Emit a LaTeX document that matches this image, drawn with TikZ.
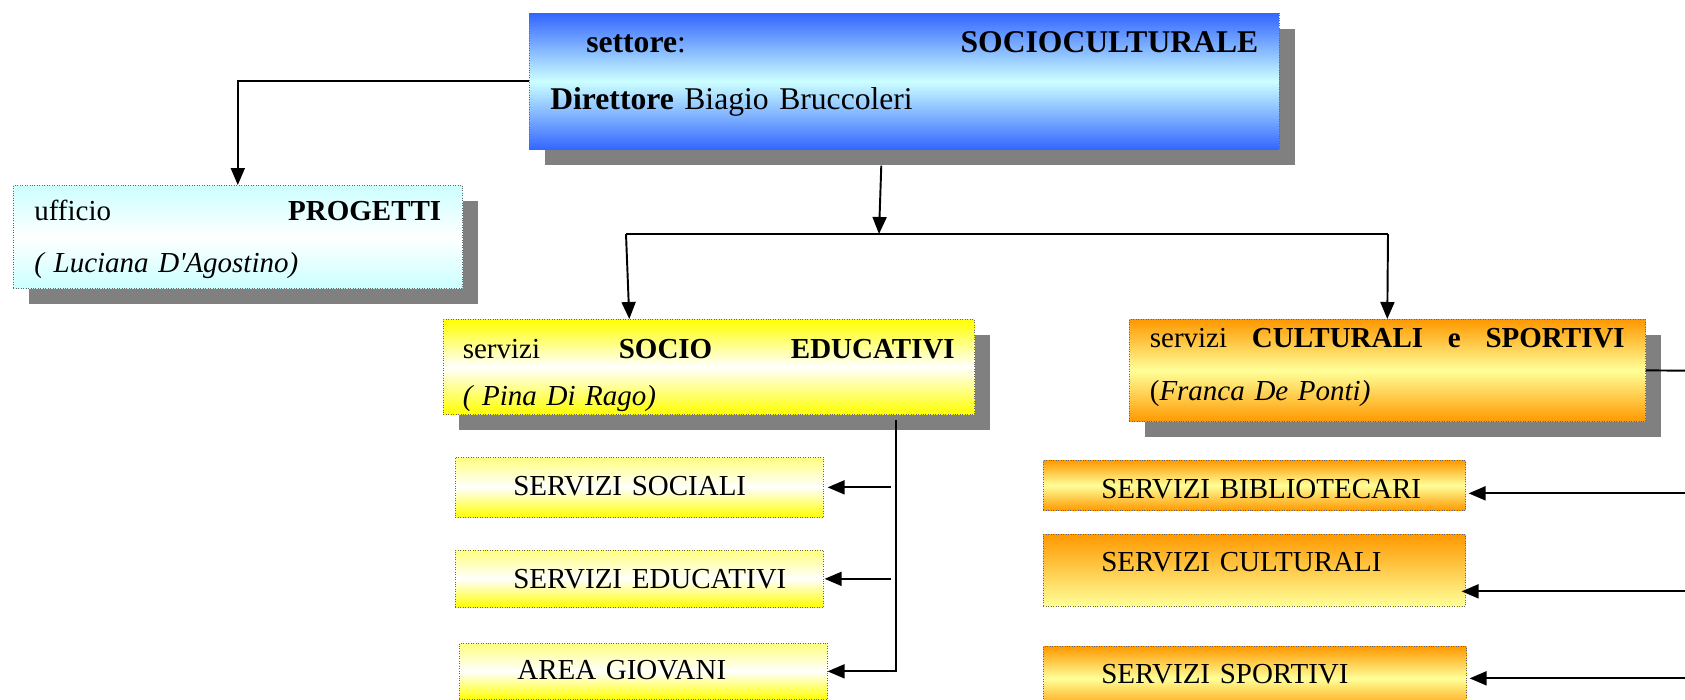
\documentclass[tikz,border=0pt]{standalone}
\usepackage{fontspec}
\setmainfont{Liberation Serif}
\usetikzlibrary{arrows.meta,shadows}
\definecolor{dirblue}{RGB}{51,102,255}
\definecolor{dircyan}{RGB}{204,255,255}
\definecolor{edyellow}{RGB}{255,255,0}
\definecolor{culorange}{RGB}{255,153,0}
\definecolor{culcream}{RGB}{255,255,153}

\begin{document}
\begin{tikzpicture}[x=0.02cm, y=-0.02cm,
  box/.style={draw=black!60, densely dotted, inner ysep=0pt, align=left, anchor=north west},
  shad/.style={drop shadow={shadow xshift=0.32cm, shadow yshift=-0.32cm, opacity=1, fill=black!50}},
  sub/.style={box, inner xsep=0pt, font=\fontsize{16.5}{20}\selectfont, execute at begin node={\hspace*{1.16cm}}},
  arr/.style={-{Triangle[length=0.34cm, width=0.28cm]}, line width=1.1pt},
  wire/.style={line width=1.1pt}]
\useasboundingbox (0,0) rectangle (1685,700);
\clip (0,0) rectangle (1685,700);

% direzione e uffici
\node[box, shad, inner xsep=0.42cm, text width=14.16cm, text height=0.78cm, text depth=1.94cm,
  top color=dirblue, bottom color=dirblue, middle color=dircyan, font=\fontsize{18}{32.5}\selectfont] (dir) at (529,13)
  {\hspace*{0.72cm}\textbf{settore}:\hfill\textbf{SOCIOCULTURALE}\\ \textbf{Direttore} Biagio Bruccoleri};
\node[box, shad, inner xsep=0.42cm, text width=8.14cm, text height=0.7cm, text depth=1.36cm,
  top color=dircyan, bottom color=dircyan, middle color=white, font=\fontsize{16.5}{29.5}\selectfont] (prog) at (13,185)
  {ufficio\hfill\textbf{PROGETTI}\\ \textit{( Luciana D\textquotesingle Agostino)}};
\node[box, shad, inner xsep=0.39cm, text width=9.84cm, text height=0.78cm, text depth=1.12cm,
  top color=edyellow, bottom color=edyellow, middle color=white, font=\fontsize{16.5}{27}\selectfont] (socio) at (443,319)
  {servizi\hfill\textbf{SOCIO}\hfill\textbf{EDUCATIVI}\\ \textit{( Pina Di Rago)}};
\node[box, shad, inner xsep=0.41cm, text width=9.5cm, text height=0.56cm, text depth=1.48cm,
  top color=culorange, bottom color=culorange, middle color=culcream, font=\fontsize{16.5}{30}\selectfont] (cult) at (1129,319)
  {servizi\hfill\textbf{CULTURALI}\hfill\textbf{e}\hfill\textbf{SPORTIVI}\\ (\textit{Franca De Ponti)}};

% servizi
\node[sub, text width=7.36cm, text height=0.76cm, text depth=0.44cm,
  top color=edyellow!50, bottom color=edyellow, middle color=white] (sociali) at (455,457) {SERVIZI SOCIALI};
\node[sub, text width=7.36cm, text height=0.76cm, text depth=0.38cm,
  top color=edyellow!50, bottom color=edyellow, middle color=white] (educ) at (455,550) {SERVIZI EDUCATIVI};
\node[sub, text width=7.36cm, text height=0.72cm, text depth=0.40cm,
  top color=edyellow!50, bottom color=edyellow, middle color=white] (giovani) at (459,643) {AREA GIOVANI};
\node[sub, text width=8.44cm, text height=0.76cm, text depth=0.24cm,
  top color=culorange, bottom color=culorange, middle color=culcream] (bibl) at (1043,460) {SERVIZI BIBLIOTECARI};
\node[sub, text width=8.44cm, text height=0.74cm, text depth=0.70cm,
  top color=culorange, bottom color=culcream] (scult) at (1043,534) {SERVIZI CULTURALI};
\node[sub, text width=8.46cm, text height=0.74cm, text depth=0.54cm,
  top color=culorange, bottom color=culorange, middle color=culcream] (sport) at (1043,646) {SERVIZI SPORTIVI};

% rami principali
\coordinate (split) at (879,234);
\coordinate (splitL) at (626,234);
\coordinate (splitR) at (1388,234);
\draw[arr] (dir.west) -| (prog.north);
\draw[arr] ([xshift=-0.46cm, yshift=-0.32cm]dir.south) -- (split);
\draw[wire] (splitL) -- (splitR);
\draw[arr] (splitL) -- ([xshift=-1.59cm]socio.north);
\draw[arr] (splitR) -- (cult.north);

% servizi socio educativi
\coordinate (edspine) at (896,420);
\draw[arr] (edspine) |- (giovani.east);
\draw[arr] ([xshift=-0.1cm]edspine |- sociali.east) -- ([xshift=0.08cm]sociali.east);
\draw[arr] ([xshift=-0.1cm]edspine |- educ.east) -- ([xshift=0.02cm]educ.east);

% servizi culturali e sportivi
\coordinate (culspine) at (1720,371);
\draw[wire] (cult.east) -- (culspine) -- (culspine |- sport.east);
\draw[arr] ([yshift=-0.16cm]culspine |- bibl.east) -- ([xshift=0.06cm, yshift=-0.16cm]bibl.east);
\draw[arr] ([yshift=-0.42cm]culspine |- scult.east) -- ([xshift=-0.08cm, yshift=-0.42cm]scult.east);
\draw[arr] (culspine |- sport.east) -- ([xshift=0.06cm]sport.east);
\end{tikzpicture}
\end{document}
